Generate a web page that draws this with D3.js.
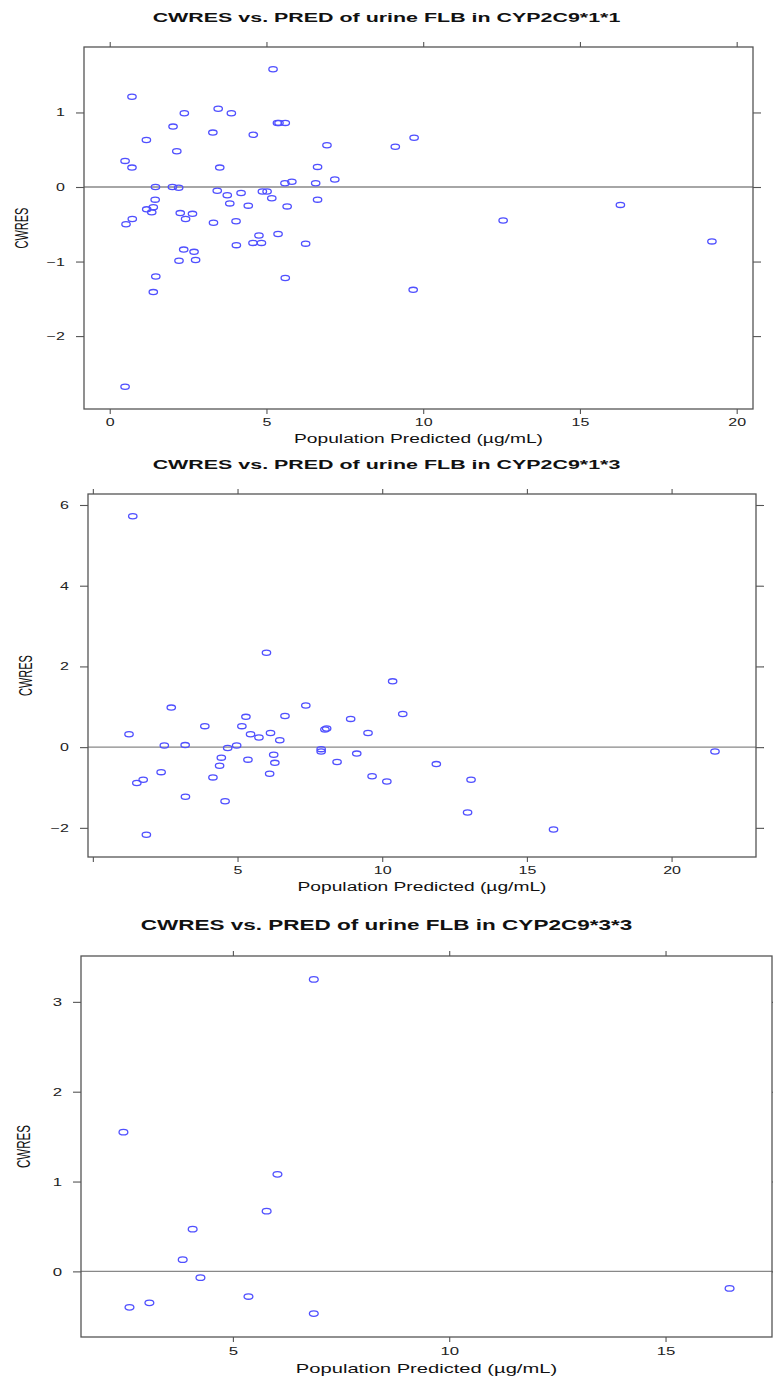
<!DOCTYPE html>
<html>
<head>
<meta charset="utf-8">
<script src="https://cdn.jsdelivr.net/npm/d3@7"></script>
<style>
  body { margin: 0; background: #fff; }
  svg { display: block; font-family: "Liberation Sans", Arial, sans-serif; }
</style>
</head>
<body>
<div id="viz"></div>
<script>
// CWRES vs PRED, urine FLB, three CYP2C9 genotype groups
const titles = [
  'CWRES vs. PRED of urine FLB in CYP2C9*1*1',
  'CWRES vs. PRED of urine FLB in CYP2C9*1*3',
  'CWRES vs. PRED of urine FLB in CYP2C9*3*3'
];
const xLabels = [
  'Population Predicted (\u00b5g/mL)',
  'Population Predicted  (\u00b5g/mL)',
  'Population Predicted  (\u00b5g/mL)'
];
const yLabel = 'CWRES';

const pred11 = [5.21, 0.71, 2.38, 3.46, 3.88, 5.35, 5.40, 5.60, 2.02, 3.29, 4.58, 6.93, 1.17, 2.14, 0.49, 0.71,
  3.51, 6.63, 1.46, 2.00, 2.20, 3.43, 3.75, 4.19, 4.87, 5.02, 5.59, 5.81, 6.57, 5.17, 6.63, 1.45, 3.83, 4.42,
  5.66, 1.18, 1.39, 1.34, 2.25, 2.64, 2.42, 0.72, 0.52, 3.31, 4.03, 4.76, 5.37, 4.57, 4.84, 4.04, 6.25, 2.36,
  2.69, 2.21, 2.74, 1.47, 5.60, 1.39, 0.49, 9.71, 9.11, 7.18, 9.68, 12.55, 16.29, 19.21];
const cwres11 = [1.58, 1.21, 0.99, 1.05, 0.99, 0.86, 0.86, 0.86, 0.81, 0.73, 0.70, 0.56, 0.63, 0.48, 0.35, 0.26,
  0.26, 0.27, 0.00, 0.00, -0.01, -0.05, -0.11, -0.08, -0.06, -0.06, 0.05, 0.07, 0.05, -0.15, -0.17, -0.17, -0.22, -0.25,
  -0.26, -0.30, -0.27, -0.34, -0.35, -0.36, -0.43, -0.43, -0.50, -0.48, -0.46, -0.65, -0.63, -0.75, -0.75, -0.78, -0.76, -0.84,
  -0.87, -0.99, -0.98, -1.20, -1.22, -1.41, -2.68, 0.66, 0.54, 0.10, -1.38, -0.45, -0.24, -0.73];

const pred13 = [1.38, 6.00, 2.71, 5.29, 6.64, 7.36, 3.87, 5.15, 1.25, 5.45, 5.74, 6.14, 6.46, 8.08, 8.02, 8.91,
  9.51, 2.47, 3.19, 4.66, 4.97, 7.89, 7.89, 6.25, 4.44, 5.36, 6.29, 9.12, 4.38, 8.44, 2.36, 6.11, 4.15, 9.65,
  1.74, 1.52, 3.20, 4.57, 1.85, 10.36, 10.71, 11.87, 10.16, 13.07, 12.95, 15.92, 21.50];
const cwres13 = [5.72, 2.34, 0.98, 0.75, 0.77, 1.03, 0.52, 0.52, 0.32, 0.32, 0.24, 0.35, 0.17, 0.46, 0.44, 0.70,
  0.35, 0.04, 0.05, -0.02, 0.04, -0.05, -0.11, -0.19, -0.26, -0.31, -0.39, -0.16, -0.46, -0.37, -0.62, -0.66, -0.75, -0.72,
  -0.81, -0.89, -1.23, -1.34, -2.17, 1.63, 0.82, -0.42, -0.85, -0.81, -1.62, -2.04, -0.11];

const pred33 = [2.47, 6.03, 5.78, 4.07, 3.84, 4.25, 5.36, 3.07, 2.61, 6.87, 6.87, 16.48];
const cwres33 = [1.55, 1.08, 0.67, 0.47, 0.13, -0.07, -0.28, -0.35, -0.40, -0.47, 3.25, -0.19];

const xTicks = [[0, 5, 10, 15, 20], [0, 5, 10, 15, 20], [5, 10, 15]];
const yTicks = [[-2, -1, 0, 1], [-2, 0, 2, 4, 6], [0, 1, 2, 3]];
const hiddenXLabels = [[], [0], []];

// the source picture is stretched sideways, so text and symbols are too
const SX = 1.6;
const W = 773, H = 1381;
const fmt = d3.format('d');

const svg = d3.select('#viz').append('svg').attr('width', W).attr('height', H);

// lattice pads each axis by 7% of the data range
const pad = ext => {
  const r = ext[1] - ext[0];
  return [ext[0] - 0.07 * r, ext[1] + 0.07 * r];
};

const stretched = (g, x, y, str, size, anchor, weight, rotate) => g.append('text')
  .attr('transform', `translate(${x},${y}) scale(${SX},1)` + (rotate ? ' rotate(-90)' : ''))
  .attr('text-anchor', anchor)
  .attr('font-size', size)
  .attr('font-weight', weight || 'normal')
  .attr('fill', '#111')
  .text(str);

const panels = [
  { xs: pred11, ys: cwres11, box: { l: 84, r: 753, t: 47, b: 409 }, titleY: 22, fs: 1.0, ylabX: 28, yTickR: 65 },
  { xs: pred13, ys: cwres13, box: { l: 88, r: 756, t: 494, b: 857 }, titleY: 469, fs: 1.0, ylabX: 32, yTickR: 69 },
  { xs: pred33, ys: cwres33, box: { l: 81, r: 772, t: 956, b: 1337 }, titleY: 930, fs: 1.05, ylabX: 30, yTickR: 62 }
];

panels.forEach((p, i) => {
  const { l, r, t, b } = p.box;
  const x = d3.scaleLinear().domain(pad(d3.extent(p.xs))).range([l, r]);
  const y = d3.scaleLinear().domain(pad(d3.extent(p.ys))).range([b, t]);
  const g = svg.append('g');

  // title
  stretched(g, W / 2, p.titleY, titles[i], 13.4 * p.fs, 'middle', 'bold');

  // ticks on all four sides, labels only bottom and left
  const hide = hiddenXLabels[i];
  const bottom = g.append('g').attr('transform', `translate(0,${b})`)
    .call(d3.axisBottom(x).tickValues(xTicks[i]).tickSizeOuter(0).tickSize(5).tickPadding(0)
      .tickFormat(d => hide.includes(d) ? '' : fmt(d)));
  bottom.selectAll('text').attr('y', null).attr('dy', null)
    .attr('transform', `translate(0,${17 * p.fs}) scale(${SX},1)`)
    .attr('font-size', 10 * p.fs).attr('fill', '#222');

  const left = g.append('g').attr('transform', `translate(${l},0)`)
    .call(d3.axisLeft(y).tickValues(yTicks[i]).tickSizeOuter(0).tickSize(8).tickFormat(fmt));
  left.selectAll('text').attr('x', null).attr('dy', '0.35em')
    .attr('transform', `translate(${p.yTickR - l},0) scale(${SX},1)`)
    .attr('font-size', 10 * p.fs).attr('fill', '#222');

  g.append('g').attr('transform', `translate(0,${t})`)
    .call(d3.axisTop(x).tickValues(xTicks[i]).tickSizeOuter(0).tickSize(5).tickFormat(''));
  g.append('g').attr('transform', `translate(${r},0)`)
    .call(d3.axisRight(y).tickValues(yTicks[i]).tickSizeOuter(0).tickSize(8).tickFormat(''));

  g.selectAll('.domain').remove();
  g.selectAll('.tick line').attr('stroke', '#555').attr('stroke-width', 1.1);

  // reference line at zero
  g.append('line')
    .attr('x1', l).attr('x2', r).attr('y1', y(0)).attr('y2', y(0))
    .attr('stroke', '#888').attr('stroke-width', 1.3);

  // points
  g.append('g').selectAll('ellipse')
    .data(p.xs.map((v, k) => [v, p.ys[k]]))
    .join('ellipse')
    .attr('cx', d => x(d[0]))
    .attr('cy', d => y(d[1]))
    .attr('rx', 4.2 * p.fs)
    .attr('ry', 2.6 * p.fs)
    .attr('fill', 'none')
    .attr('stroke', '#5050ff')
    .attr('stroke-width', 1.3);

  // panel box
  g.append('rect')
    .attr('x', l).attr('y', t).attr('width', r - l).attr('height', b - t)
    .attr('fill', 'none').attr('stroke', '#555').attr('stroke-width', 1.3);

  // axis titles
  stretched(g, (l + r) / 2, b + 34 * p.fs, xLabels[i], 12 * p.fs, 'middle');
  stretched(g, p.ylabX, (t + b) / 2, yLabel, 11 * p.fs, 'middle', 'normal', true);
});
</script>
</body>
</html>
